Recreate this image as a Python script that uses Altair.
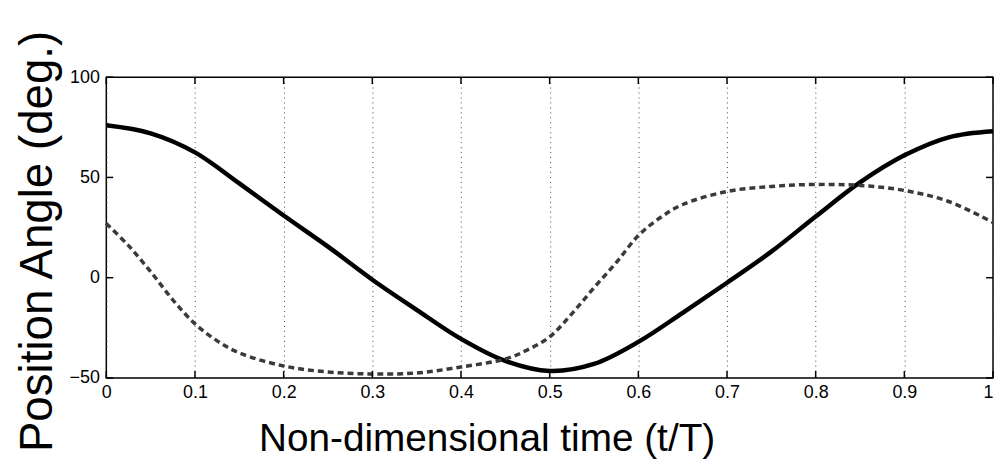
import altair as alt
import pandas as pd

# data
t_solid = [0, 0.05, 0.1, 0.15, 0.2, 0.25, 0.3, 0.35, 0.4, 0.45, 0.5,
           0.55, 0.6, 0.65, 0.7, 0.75, 0.8, 0.85, 0.9, 0.95, 1.0]
solid = [76, 72, 62.5, 47, 31, 15.5, -1, -16, -30.5, -41.5, -46.5,
         -43, -32, -17.5, -2.5, 13, 30.5, 47.5, 61, 70, 73]

t_dash = [0, 0.025, 0.05, 0.075, 0.1, 0.125, 0.15, 0.2, 0.25, 0.3, 0.35, 0.4,
          0.45, 0.475, 0.5, 0.525, 0.55, 0.575, 0.6, 0.625, 0.65, 0.7, 0.75,
          0.8, 0.85, 0.9, 0.95, 1.0]
dashed = [27, 16, 3, -11, -23, -31.5, -37.5, -44, -47, -48, -47.5, -44.5,
          -40.5, -36, -29.5, -18, -5, 7.5, 21, 30, 36.5, 43, 45.5,
          46.5, 46, 43.5, 38, 27.5]

x_ticks = [0, 0.1, 0.2, 0.3, 0.4, 0.5, 0.6, 0.7, 0.8, 0.9, 1.0]
y_ticks = [-50, 0, 50, 100]

W, H = 893, 303

df_s = pd.DataFrame({"t": t_solid, "v": solid})
df_d = pd.DataFrame({"t": t_dash, "v": dashed})
df_xt = pd.DataFrame({"t": x_ticks})
df_yt = pd.DataFrame({"v": y_ticks})

xscale = alt.Scale(domain=[0, 1], nice=False, zero=False)
yscale = alt.Scale(domain=[-50, 100], nice=False, zero=False)

x_axis = alt.Axis(
    values=x_ticks,
    labelExpr="datum.value == 0 ? '0' : (datum.value == 1 ? '1' : format(datum.value, '.1f'))",
    labelAlign={"condition": {"test": "datum.value == 1", "value": "right"}, "value": "center"},
    grid=True, gridDash=[1, 4], gridColor="#444", gridWidth=1,
    ticks=False, domain=False,
    labelFont="Liberation Sans", labelFontSize=18, labelColor="black",
    labelPadding=6, labelFlush=False,
    title="Non-dimensional time (t/T)",
    titleFont="Liberation Sans", titleFontSize=39, titleFontWeight="normal",
    titleColor="black", titleBaseline="alphabetic", titleY=73,
    titleX=383, titleAlign="center", titleAnchor="start",
)
y_axis = alt.Axis(
    values=y_ticks, grid=False, ticks=False, domain=False,
    labelFont="Liberation Sans", labelFontSize=18, labelColor="black",
    labelPadding=7, labelFlush=False,
    title="Position Angle (deg.)",
    titleFont="Liberation Sans", titleFontSize=46, titleFontWeight="normal",
    titleColor="black", titleBaseline="alphabetic", titleX=-55, titleY=165,
    titleAngle=270,
)

line_s = alt.Chart(df_s).mark_line(
    color="black", strokeWidth=4.5, interpolate="catmull-rom"
).encode(
    x=alt.X("t:Q", scale=xscale, axis=x_axis),
    y=alt.Y("v:Q", scale=yscale, axis=y_axis),
)

line_d = alt.Chart(df_d).mark_line(
    color="#3a3a3a", strokeWidth=3.5, strokeDash=[6, 4], interpolate="catmull-rom"
).encode(
    x=alt.X("t:Q", scale=xscale),
    y=alt.Y("v:Q", scale=yscale),
)

tick_bottom = alt.Chart(df_xt).mark_rule(color="black", strokeWidth=1.5).encode(
    x=alt.X("t:Q", scale=xscale), y=alt.value(H), y2=alt.value(H - 7)
)
tick_top = alt.Chart(df_xt).mark_rule(color="black", strokeWidth=1.5).encode(
    x=alt.X("t:Q", scale=xscale), y=alt.value(0), y2=alt.value(7)
)
tick_left = alt.Chart(df_yt).mark_rule(color="black", strokeWidth=1.5).encode(
    y=alt.Y("v:Q", scale=yscale), x=alt.value(0), x2=alt.value(7)
)
tick_right = alt.Chart(df_yt).mark_rule(color="black", strokeWidth=1.5).encode(
    y=alt.Y("v:Q", scale=yscale), x=alt.value(W), x2=alt.value(W - 7)
)

chart = alt.layer(
    line_s, line_d, tick_bottom, tick_top, tick_left, tick_right
).properties(
    width=W, height=H,
    autosize=alt.AutoSizeParams(type="none"),
    padding={"left": 99, "top": 68, "right": 2, "bottom": 87},
    background="white",
).configure_view(
    stroke="black", strokeWidth=1.5
)

chart.save("out.html", embed_options={"renderer": "svg", "actions": False})
